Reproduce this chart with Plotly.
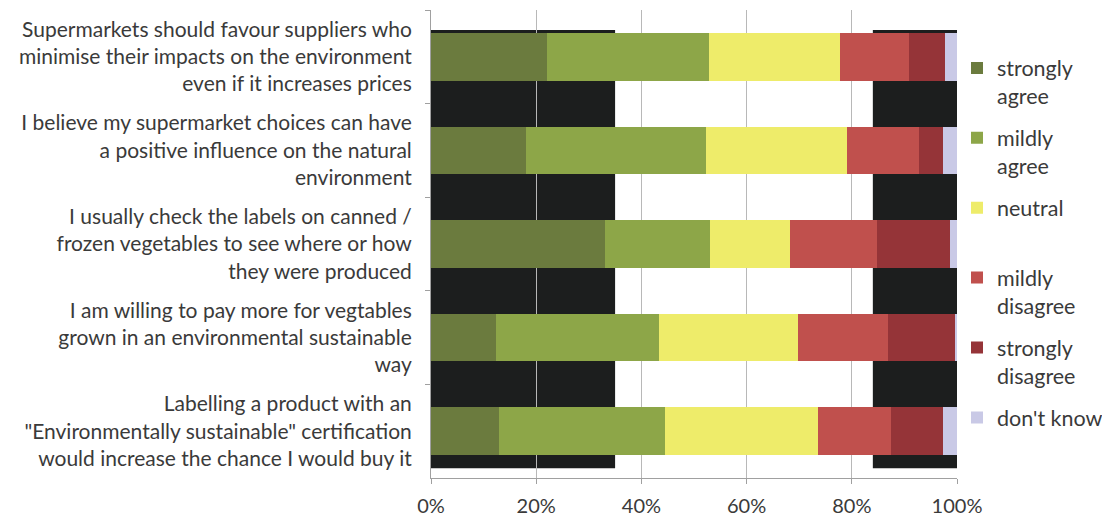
import plotly.graph_objects as go

statements = [
    "Supermarkets should favour suppliers who<br>minimise their impacts on the environment<br>even if it increases prices",
    "I believe my supermarket choices can have<br>a positive influence on the natural<br>environment",
    "I usually check the labels on canned /<br>frozen vegetables to see where or how<br>they were produced",
    "I am willing to pay more for vegtables<br>grown in an environmental sustainable<br>way",
    "Labelling a product with an<br>\"Environmentally sustainable\" certification<br>would increase the chance I would buy it",
]

strongly_agree = [22.0, 18.0, 33.0, 12.3, 13.0]
mildly_agree = [30.8, 34.2, 20.0, 31.0, 31.4]
neutral = [25.0, 26.8, 15.2, 26.4, 29.1]
mildly_disagree = [13.0, 13.7, 16.6, 17.1, 13.9]
strongly_disagree = [7.0, 4.7, 13.8, 12.9, 10.0]
dont_know = [2.2, 2.6, 1.4, 0.3, 2.6]

series_names = ["strongly<br>agree", "mildly<br>agree", "neutral<br> ", "mildly<br>disagree",
                "strongly<br>disagree", "don't know<br> "]
series_values = [strongly_agree, mildly_agree, neutral, mildly_disagree, strongly_disagree, dont_know]
series_colors = ["#6b7b3e", "#8da648", "#eeec6a", "#c0504d", "#953438", "#c9c9e6"]

x_ticks = [0, 20, 40, 60, 80, 100]
x_tick_text = [f"{v}%" for v in x_ticks]

FONT = "Lato, 'Open Sans', sans-serif"
TXT = "#3a3a3a"

fig = go.Figure()
for name, vals, col in zip(series_names, series_values, series_colors):
    fig.add_trace(go.Bar(
        y=statements, x=vals, name=name, orientation="h",
        marker=dict(color=col, line=dict(width=0)),
        legendgroup=name,
    ))

# dark background blocks visible in the reference image
for x0, x1 in [(0, 35), (84, 100)]:
    fig.add_shape(type="rect", xref="x", yref="paper", x0=x0, x1=x1,
                  y0=0.021, y1=0.957, fillcolor="#1c1e1e", line=dict(width=0),
                  layer="between")

fig.update_layout(
    barmode="stack",
    bargap=0.49,
    width=1102, height=511,
    margin=dict(l=423, r=152, t=2, b=39),
    paper_bgcolor="white", plot_bgcolor="white",
    font=dict(family=FONT, size=21, color=TXT),
    legend=dict(x=1.0, y=0.92, xanchor="left", yanchor="top",
                font=dict(family=FONT, size=21.5, color=TXT),
                tracegroupgap=11, traceorder="grouped", itemwidth=30,
                valign="top",
                bgcolor="rgba(0,0,0,0)"),
    showlegend=True,
)
fig.update_xaxes(
    range=[0, 100], tickmode="array", tickvals=x_ticks, ticktext=x_tick_text,
    showgrid=True, gridcolor="#b8b8b8", gridwidth=1,
    showline=True, linecolor="#a0a0a0", ticks="outside", ticklen=5,
    tickcolor="#a0a0a0", zeroline=False, ticklabelstandoff=5,
    tickfont=dict(family=FONT, size=20, color=TXT),
)
fig.update_yaxes(
    categoryorder="array", categoryarray=statements, autorange="reversed",
    showline=True, linecolor="#a0a0a0", ticks="outside", ticklen=5,
    tickson="boundaries", tickcolor="#a0a0a0", ticklabelstandoff=14,
    tickfont=dict(family=FONT, size=21, color=TXT),
)

fig.write_html("out.html")
